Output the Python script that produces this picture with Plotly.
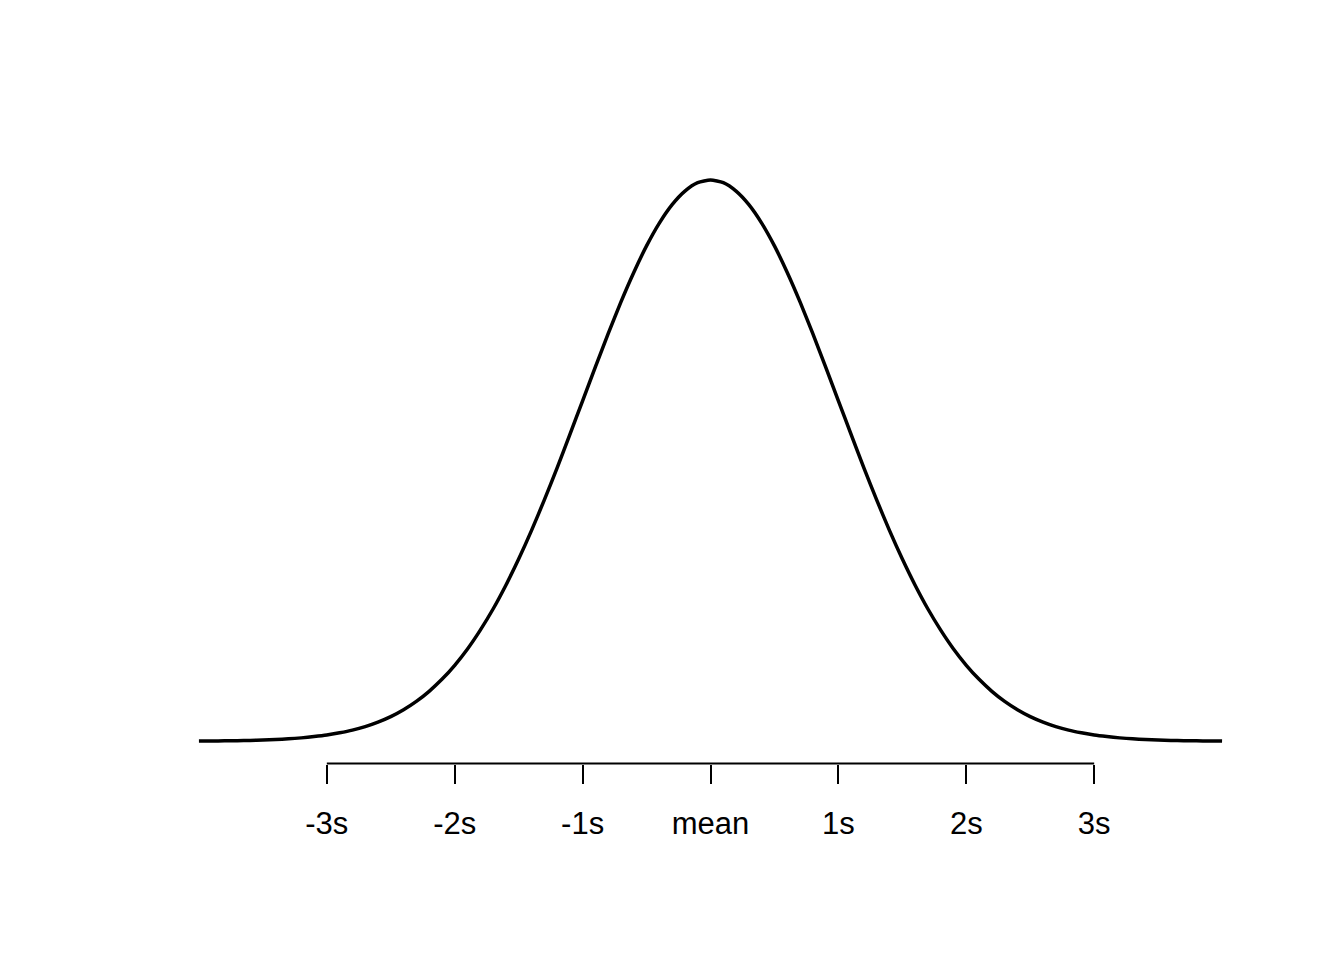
import plotly.graph_objects as go

# x values in units of standard deviations
x_vals = [-4.0, -3.9, -3.8, -3.7, -3.6, -3.5, -3.4, -3.3, -3.2, -3.1,
          -3.0, -2.9, -2.8, -2.7, -2.6, -2.5, -2.4, -2.3, -2.2, -2.1,
          -2.0, -1.9, -1.8, -1.7, -1.6, -1.5, -1.4, -1.3, -1.2, -1.1,
          -1.0, -0.9, -0.8, -0.7, -0.6, -0.5, -0.4, -0.3, -0.2, -0.1,
          0.0,
          0.1, 0.2, 0.3, 0.4, 0.5, 0.6, 0.7, 0.8, 0.9, 1.0,
          1.1, 1.2, 1.3, 1.4, 1.5, 1.6, 1.7, 1.8, 1.9, 2.0,
          2.1, 2.2, 2.3, 2.4, 2.5, 2.6, 2.7, 2.8, 2.9, 3.0,
          3.1, 3.2, 3.3, 3.4, 3.5, 3.6, 3.7, 3.8, 3.9, 4.0]

# density heights
y_vals = [0.0001, 0.0002, 0.0003, 0.0004, 0.0006, 0.0009, 0.0012, 0.0017, 0.0024, 0.0033,
          0.0044, 0.0060, 0.0079, 0.0104, 0.0136, 0.0175, 0.0224, 0.0283, 0.0355, 0.0440,
          0.0540, 0.0656, 0.0790, 0.0940, 0.1109, 0.1295, 0.1497, 0.1714, 0.1942, 0.2179,
          0.2420, 0.2661, 0.2897, 0.3123, 0.3332, 0.3521, 0.3683, 0.3814, 0.3910, 0.3970,
          0.3989,
          0.3970, 0.3910, 0.3814, 0.3683, 0.3521, 0.3332, 0.3123, 0.2897, 0.2661, 0.2420,
          0.2179, 0.1942, 0.1714, 0.1497, 0.1295, 0.1109, 0.0940, 0.0790, 0.0656, 0.0540,
          0.0440, 0.0355, 0.0283, 0.0224, 0.0175, 0.0136, 0.0104, 0.0079, 0.0060, 0.0044,
          0.0033, 0.0024, 0.0017, 0.0012, 0.0009, 0.0006, 0.0004, 0.0003, 0.0002, 0.0001]

tick_vals = [-3, -2, -1, 0, 1, 2, 3]
tick_labels = ["-3s", "-2s", "-1s", "mean", "1s", "2s", "3s"]

fig = go.Figure()
fig.add_trace(go.Scatter(x=x_vals, y=y_vals, mode="lines",
                         line=dict(color="black", width=3.5, shape="spline", smoothing=0.6),
                         hoverinfo="skip", showlegend=False))

# the page body adds an 8px offset, so place the plot region 8px up/left
ydom0 = (960 - 755.5) / 960
ydom1 = (960 - 149.6) / 960

fig.update_layout(
    width=1344, height=960,
    margin=dict(l=0, r=0, t=0, b=0),
    paper_bgcolor="white", plot_bgcolor="white",
    showlegend=False,
    xaxis=dict(domain=[150 / 1344, 1255 / 1344], range=[-4.32, 4.32],
               showgrid=False, zeroline=False, showline=False,
               tickmode="array", tickvals=tick_vals, ticktext=tick_labels,
               ticks="outside", ticklen=19, tickwidth=2, tickcolor="black",
               ticklabelstandoff=13,
               tickfont=dict(family="Liberation Sans, Arial, sans-serif", size=31, color="black")),
    yaxis=dict(domain=[ydom0, ydom1], range=[-0.01582, 0.41485],
               showgrid=False, zeroline=False, showline=False, showticklabels=False,
               ticks=""),
    shapes=[dict(type="line", xref="x", yref="paper", x0=-3, x1=3, y0=ydom0, y1=ydom0,
                 line=dict(color="black", width=2))],
)

fig.write_html("out.html")
